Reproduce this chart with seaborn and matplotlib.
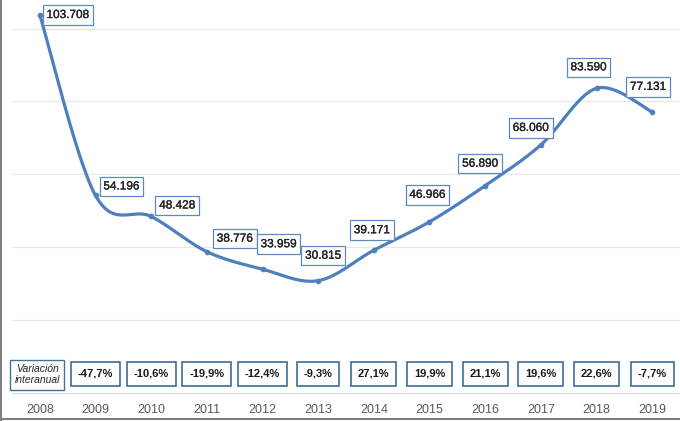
import numpy as np
import matplotlib
matplotlib.use("Agg")
import matplotlib.pyplot as plt
import matplotlib.patheffects as pe
from matplotlib.lines import Line2D
import seaborn as sns

# data
years = ["2008", "2009", "2010", "2011", "2012", "2013",
         "2014", "2015", "2016", "2017", "2018", "2019"]
values = [103708, 54196, 48428, 38776, 33959, 30815,
          39171, 46966, 56890, 68060, 83590, 77131]
value_labels = ["103.708", "54.196", "48.428", "38.776", "33.959", "30.815",
                "39.171", "46.966", "56.890", "68.060", "83.590", "77.131"]
variation = ["-47,7%", "-10,6%", "-19,9%", "-12,4%", "-9,3%",
             "27,1%", "19,9%", "21,1%", "19,6%", "22,6%", "-7,7%"]

# label offsets in pixels (box centre relative to point)
label_offsets = [(28, 0), (26, 9), (26, 11), (28, 13), (16, 25), (5, 25),
                 (-2, 20), (-2, 27), (-5, 22), (-10, 17), (-8, 21), (-4, 25)]

LINE_COLOR = "#4f7fbd"

sns.set_style("white")
plt.rcParams["font.family"] = ["Liberation Sans", "DejaVu Sans"]


def excel_smooth(x, y, n=30):
    # bezier smoothing like a spreadsheet "smoothed line"
    x = np.asarray(x, float)
    y = np.asarray(y, float)
    px = np.concatenate([[x[0]], x, [x[-1]]])
    py = np.concatenate([[y[0]], y, [y[-1]]])
    xs, ys = [], []
    t = np.linspace(0, 1, n)
    for i in range(1, len(px) - 2):
        p0 = np.array([px[i], py[i]])
        p3 = np.array([px[i + 1], py[i + 1]])
        c1 = p0 + (np.array([px[i + 1], py[i + 1]]) - np.array([px[i - 1], py[i - 1]])) / 6
        c2 = p3 - (np.array([px[i + 2], py[i + 2]]) - np.array([px[i], py[i]])) / 6
        pts = ((1 - t)[:, None] ** 3 * p0 + 3 * ((1 - t) ** 2 * t)[:, None] * c1
               + 3 * ((1 - t) * t ** 2)[:, None] * c2 + (t ** 3)[:, None] * p3)
        xs.extend(pts[:, 0])
        ys.extend(pts[:, 1])
    return np.array(xs), np.array(ys)


fig = plt.figure(figsize=(6.8, 4.21), dpi=100)
ax = fig.add_axes([12 / 680, 28 / 421, 668 / 680, 390 / 421])

xpos = np.arange(len(years))
sx, sy = excel_smooth(xpos, values)
sns.lineplot(x=sx, y=sy, sort=False, ax=ax, color=LINE_COLOR, linewidth=2.3)
sns.scatterplot(x=xpos, y=values, ax=ax, color=LINE_COLOR, s=14,
                edgecolor=LINE_COLOR, zorder=3)

ax.set_xlim(-0.5, len(years) - 0.5)
ax.set_ylim(0, 107000)
ax.set_yticks([20000, 40000, 60000, 80000, 100000])
ax.yaxis.grid(True, color="#e8e8e8", linewidth=0.9)
ax.set_yticklabels([])
ax.tick_params(axis="y", length=0)
ax.set_xticks(xpos)
ax.set_xticklabels(years, fontsize=9, color="#595959")
ax.tick_params(axis="x", length=0, pad=8)
for s in ["top", "right", "left"]:
    ax.spines[s].set_visible(False)
ax.spines["bottom"].set_color("#dcdcdc")
ax.spines["bottom"].set_linewidth(0.9)

thick = [pe.withStroke(linewidth=0.25, foreground="#262626")]

# value labels
for i, (v, lab) in enumerate(zip(values, value_labels)):
    dx, dy = label_offsets[i]
    ax.annotate(lab, (xpos[i], v), xytext=(dx, dy), textcoords="offset pixels",
                ha="center", va="center", fontsize=8.5, color="#262626",
                path_effects=thick,
                bbox=dict(boxstyle="square,pad=0.32", fc="white",
                          ec="#5b89c0", lw=0.9), zorder=4)

# year on year variation row
ax.text(-0.05, 0.047, "Variación\ninteranual", transform=ax.get_xaxis_transform(),
        ha="center", va="center", fontsize=7.5, style="italic",
        color="#262626", linespacing=1.15,
        bbox=dict(boxstyle="square,pad=0.42", fc="white", ec="#41719c", lw=1.0))
for i, txt in enumerate(variation):
    ax.text(xpos[i + 1], 0.049, txt, transform=ax.get_xaxis_transform(),
            ha="center", va="center", fontsize=8, fontweight="bold",
            color="#1a1a1a",
            bbox=dict(boxstyle="square,pad=0.62", fc="white", ec="#2f5f8f", lw=1.1))

# outer frame on left and bottom
fig.add_artist(Line2D([0.5 / 680, 0.5 / 680], [0, 1], transform=fig.transFigure,
                      color="#808080", linewidth=1.5))
fig.add_artist(Line2D([0, 1], [2 / 421, 2 / 421], transform=fig.transFigure,
                      color="#808080", linewidth=1.5))

fig.savefig("out.png", dpi=100)
